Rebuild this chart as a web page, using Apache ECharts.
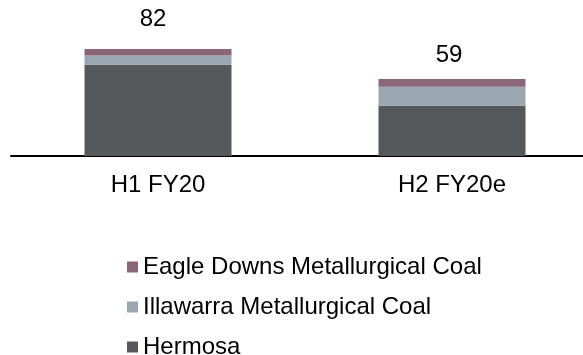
<!DOCTYPE html>
<html>
<head>
<meta charset="utf-8">
<script src="https://cdn.jsdelivr.net/npm/echarts@6/dist/echarts.min.js"></script>
<style>
html,body{margin:0;padding:0;background:#fff;overflow:hidden;}
#chart{width:599px;height:355px;}
</style>
</head>
<body>
<div id="chart"></div>
<script>
const categories = ['H1 FY20', 'H2 FY20e'];
const hermosa = [70, 38.5];
const illawarra = [7, 14.5];
const eagleDowns = [5, 6];
const totals = [82, 59];
const legendOrder = ['Eagle Downs Metallurgical Coal', 'Illawarra Metallurgical Coal', 'Hermosa'];

const labelDistance = [18, 12];
const labelOffsetX = [-5, -3];

const font = 'Liberation Sans, Arial, sans-serif';
const chart = echarts.init(document.getElementById('chart'), null, {renderer: 'canvas'});

const eagleData = eagleDowns.map((v, i) => ({
  value: v,
  label: {
    show: true,
    position: 'top',
    distance: labelDistance[i],
    offset: [labelOffsetX[i], 0],
    formatter: () => String(totals[i]),
    color: '#000',
    fontSize: 24,
    fontFamily: font,
    lineHeight: 24
  }
}));

chart.setOption({
  animation: false,
  grid: {left: 11, right: 0, top: 25.5, bottom: 199, containLabel: false},
  legend: {
    orient: 'vertical',
    left: 122,
    top: 250,
    height: 150,
    data: legendOrder,
    itemWidth: 11,
    itemHeight: 11,
    itemGap: 16,
    icon: 'rect',
    textStyle: {fontSize: 24, fontFamily: font, color: '#000', lineHeight: 24}
  },
  xAxis: {
    type: 'category',
    data: categories,
    axisLine: {lineStyle: {color: '#000', width: 2}},
    axisTick: {show: false},
    axisLabel: {fontSize: 24, fontFamily: font, color: '#000', margin: 17, lineHeight: 24}
  },
  yAxis: {
    type: 'value',
    min: 0,
    max: 100,
    show: false,
    splitLine: {show: false}
  },
  series: [
    {name: 'Hermosa', type: 'bar', stack: 't', barWidth: '50%', data: hermosa, itemStyle: {color: '#55595C'}},
    {name: 'Illawarra Metallurgical Coal', type: 'bar', stack: 't', data: illawarra, itemStyle: {color: '#9BA7B0'}},
    {name: 'Eagle Downs Metallurgical Coal', type: 'bar', stack: 't', data: eagleData, itemStyle: {color: '#8B6679'}}
  ]
});
</script>
</body>
</html>
